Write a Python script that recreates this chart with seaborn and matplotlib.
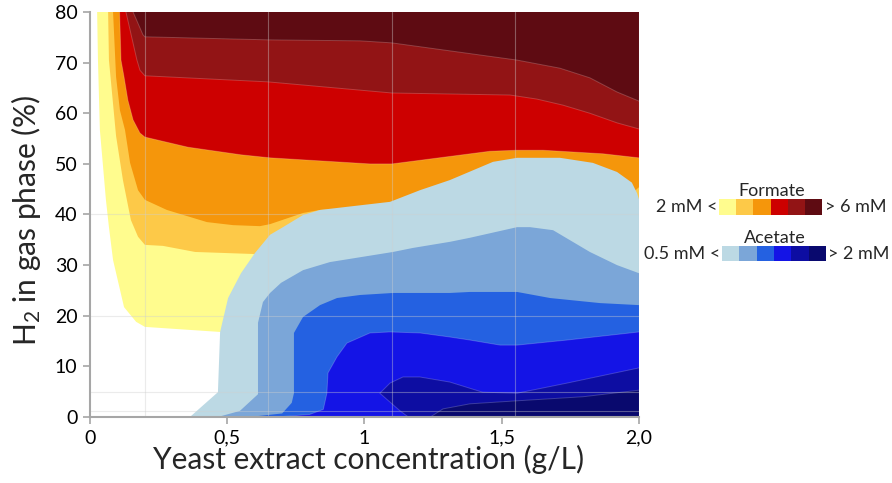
import matplotlib
matplotlib.use("Agg")
import matplotlib.pyplot as plt
from matplotlib.patches import Rectangle
import seaborn as sns
import pandas as pd

# ---------------- data ----------------
# Formate contour boundaries (region above each threshold lies up/right of the curve)
f1_x = [0.026, 0.029, 0.036, 0.058, 0.069, 0.084, 0.124, 0.168, 0.200, 0.474, 1.0, 1.6, 2.0]
f1_y = [80, 70.5, 56.7, 42.9, 37.5, 31.0, 21.7, 18.8, 17.8, 16.8, 16.5, 16.5, 16.5]
f2_x = [0.066, 0.069, 0.095, 0.120, 0.149, 0.175, 0.200, 0.266, 0.383, 0.594, 0.9, 1.5, 2.0]
f2_y = [80, 70.5, 55.5, 46.8, 38.9, 35.6, 34.0, 33.8, 32.6, 32.2, 30.0, 30.0, 42.5]
f3_x = [0.084, 0.095, 0.109, 0.1275, 0.146, 0.175, 0.200, 0.28, 0.426, 0.521, 0.619, 0.656, 0.776, 0.838, 1.1, 1.5, 1.95, 2.0]
f3_y = [80, 67.2, 60.6, 56.7, 50.2, 44.8, 42.9, 40.9, 38.5, 37.9, 37.7, 38.1, 40.3, 40.9, 41.5, 42.0, 43.0, 45.4]
f4_x = [0.108, 0.113, 0.124, 0.138, 0.157, 0.182, 0.200, 0.357, 0.55, 0.656, 1.02, 1.10, 1.30, 1.457, 1.556, 1.65, 1.869, 2.0]
f4_y = [80, 70.5, 67.2, 62.6, 58.7, 56.1, 55.3, 53.3, 51.8, 51.2, 50.0, 50.0, 51.4, 52.5, 52.7, 52.7, 52.0, 51.2]
f5_x = [0.131, 0.171, 0.182, 0.200, 0.648, 1.10, 1.53, 1.628, 1.723, 1.821, 1.92, 2.0]
f5_y = [80, 70.5, 68.5, 67.4, 66.2, 64.0, 63.6, 62.8, 61.6, 60.0, 58.1, 56.9]
f6_x = [0.157, 0.193, 0.200, 0.648, 0.984, 1.10, 1.556, 1.712, 1.821, 1.92, 2.0]
f6_y = [80, 75.5, 75.1, 74.5, 74.3, 73.9, 70.5, 68.9, 67.0, 64.2, 62.4]

# Acetate contour boundaries (region above each threshold lies below/right of the curve)
a1_x = [0.364, 0.466, 0.474, 0.503, 0.55, 0.601, 0.656, 0.703, 0.776, 0.838, 1.093, 1.202, 1.311,
        1.468, 1.556, 1.712, 1.832, 1.92, 1.974, 1.993, 2.0]
a1_y = [0, 4.9, 16.8, 23.5, 28.4, 32.4, 36.0, 37.5, 39.9, 40.9, 42.5, 44.8, 46.8,
        50.4, 51.2, 51.2, 50.2, 48.4, 46.3, 44.2, 43.0]
a2_x = [0.466, 0.546, 0.612, 0.612, 0.630, 0.656, 0.696, 0.776, 0.874, 1.104, 1.177, 1.311, 1.384,
        1.556, 1.603, 1.687, 1.821, 1.92, 2.0]
a2_y = [0, 1.2, 4.5, 18.6, 22.7, 24.5, 26.5, 29.0, 30.6, 32.6, 33.4, 34.6, 35.4,
        37.5, 37.5, 36.9, 32.6, 30.0, 28.4]
a3_x = [0.58, 0.70, 0.735, 0.743, 0.743, 0.776, 0.838, 0.90, 0.984, 1.104, 1.311, 1.384, 1.556, 1.676, 1.858, 2.0]
a3_y = [0, 0.7, 2.8, 4.7, 16.6, 19.75, 22.1, 23.5, 24.1, 24.5, 24.5, 24.7, 24.7, 23.5, 22.5, 22.1]
a4_x = [0.68, 0.80, 0.85, 0.863, 0.867, 0.90, 0.936, 1.02, 1.093, 1.202, 1.311, 1.384, 1.494, 1.556, 1.738, 2.0]
a4_y = [0, 0.5, 1.5, 4.7, 8.7, 11.9, 14.6, 16.6, 16.8, 16.6, 15.8, 15.2, 14.2, 14.2, 15.2, 16.8]
a5_x = [1.16, 1.13, 1.056, 1.093, 1.14, 1.202, 1.311, 1.43, 1.556, 1.738, 2.0]
a5_y = [0, 1.2, 4.7, 6.7, 7.9, 7.9, 6.9, 4.9, 4.7, 6.7, 9.7]
a6_x = [1.24, 1.286, 1.384, 1.556, 1.796, 2.0]
a6_y = [0, 1.6, 2.6, 3.2, 4.0, 5.3]

formate_colors = ["#FFFC8E", "#FDC948", "#F5960B", "#CD0000", "#921415", "#5E0B12"]
acetate_colors = ["#BCD9E4", "#7BA6D8", "#2461E1", "#1414E6", "#0D0DA2", "#09096E"]

x_ticks = [0, 0.5, 1, 1.5, 2]
x_tick_labels = ["0", "0,5", "1", "1,5", "2,0"]
y_ticks = [0, 10, 20, 30, 40, 50, 60, 70, 80]
grid_x = [0.2, 0.65, 1.1, 1.55, 2.0]
grid_y = [1.2, 5, 20, 40]

XMIN, XMAX, YMIN, YMAX = 0, 2.0, 0, 80

# ---------------- style ----------------
sns.set_theme(style="white")
plt.rcParams["font.family"] = ["Lato", "DejaVu Sans"]
plt.rcParams["mathtext.fontset"] = "custom"
plt.rcParams["mathtext.rm"] = "Lato"
plt.rcParams["mathtext.it"] = "Lato:italic"

fig = plt.figure(figsize=(8.92, 4.83), dpi=100)
ax = fig.add_axes([90 / 892, 1 - 417 / 483, 549 / 892, 405 / 483])

formate = [(f1_x, f1_y), (f2_x, f2_y), (f3_x, f3_y), (f4_x, f4_y), (f5_x, f5_y), (f6_x, f6_y)]
acetate = [(a1_x, a1_y), (a2_x, a2_y), (a3_x, a3_y), (a4_x, a4_y), (a5_x, a5_y), (a6_x, a6_y)]

z = 1
for (bx, by), c in zip(formate, formate_colors):
    ax.fill(list(bx) + [XMAX], list(by) + [YMAX], color=c, lw=0, zorder=z)
    z += 1
for (bx, by), c in zip(acetate, acetate_colors):
    ax.fill(list(bx) + [XMAX], list(by) + [YMIN], color=c, lw=0, zorder=z)
    z += 1

# thin light boundary lines (as in the original contour chart)
for i, (bx, by) in enumerate(formate[3:] + acetate[3:]):
    df = pd.DataFrame({"x": bx, "y": by})
    sns.lineplot(data=df, x="x", y="y", sort=False, estimator=None, ax=ax,
                 color="white", alpha=0.2, lw=0.7, zorder=20)

for gx in grid_x:
    ax.axvline(gx, color="#cfcfcf", alpha=0.4, lw=0.8, zorder=30)
for gy in grid_y:
    ax.axhline(gy, color="#cfcfcf", alpha=0.4, lw=0.8, zorder=30)

ax.set_xlim(XMIN, XMAX)
ax.set_ylim(YMIN, YMAX)
ax.set_xticks(x_ticks)
ax.set_xticklabels(x_tick_labels)
ax.set_yticks(y_ticks)
ax.tick_params(axis="both", which="both", direction="out", length=5, width=1.2,
               color="#a6a6a6", labelsize=14, labelcolor="black", pad=4,
               bottom=True, left=True)
for s in ["top", "right"]:
    ax.spines[s].set_visible(False)
for s in ["left", "bottom"]:
    ax.spines[s].set_color("#a6a6a6")
    ax.spines[s].set_linewidth(1.5)
    ax.spines[s].set_zorder(40)

ax.set_xlabel("Yeast extract concentration (g/L)", fontsize=21.5)
ax.set_ylabel(r"H$_2$ in gas phase (%)", fontsize=21.5)
ax.xaxis.set_label_coords(0.508, -0.07)
ax.yaxis.set_label_coords(-0.086, 0.486)

# ---------------- legend (colour strips) ----------------
def fx(px):
    return px / 892

def fy(py):
    return 1 - py / 483

def strip(x0, x1, y0, y1, colors):
    w = (x1 - x0) / len(colors)
    for k, c in enumerate(colors):
        fig.patches.append(Rectangle((fx(x0 + k * w), fy(y1)), w / 892, (y1 - y0) / 483,
                                     transform=fig.transFigure, color=c, lw=0))

strip(719, 822, 199, 215, formate_colors)
strip(722, 826, 246, 261, acetate_colors)
fs = 13
fig.text(fx(772), fy(191), "Formate", ha="center", va="center", fontsize=fs)
fig.text(fx(717), fy(207), "2 mM <", ha="right", va="center", fontsize=fs)
fig.text(fx(825), fy(207), "> 6 mM", ha="left", va="center", fontsize=fs)
fig.text(fx(775), fy(238), "Acetate", ha="center", va="center", fontsize=fs)
fig.text(fx(720), fy(254), "0.5 mM <", ha="right", va="center", fontsize=fs)
fig.text(fx(828), fy(254), "> 2 mM", ha="left", va="center", fontsize=fs)

fig.savefig("out.png", dpi=100)
